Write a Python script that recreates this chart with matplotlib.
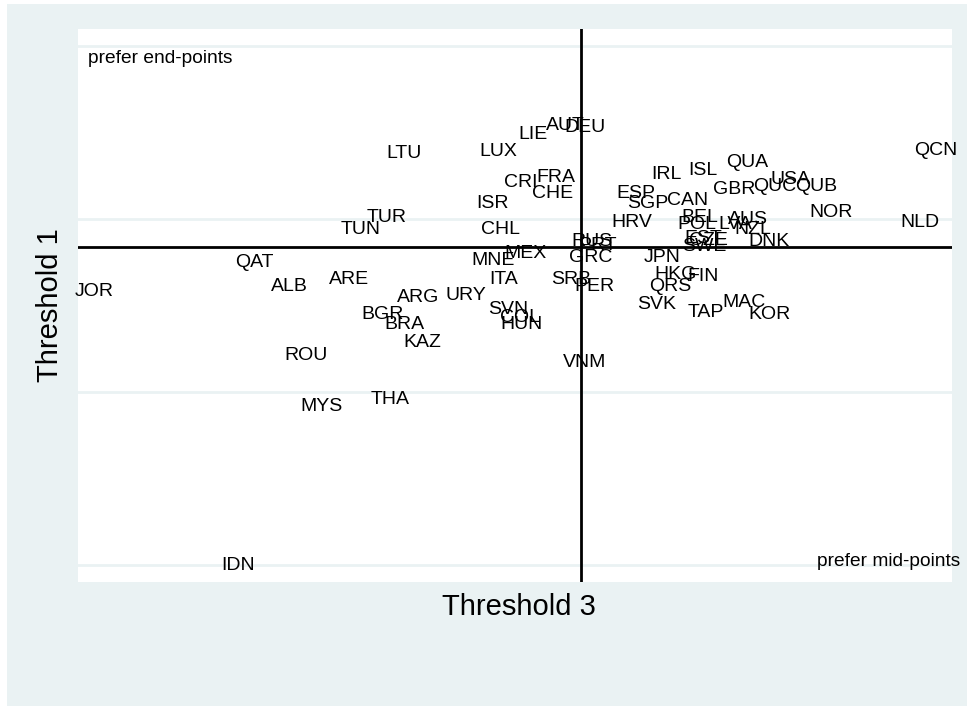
import matplotlib
matplotlib.use("Agg")
import matplotlib.pyplot as plt
from matplotlib.patches import Rectangle
from matplotlib.transforms import offset_copy

plt.rcParams['font.family'] = ['Liberation Sans', 'DejaVu Sans']

countries = ["JOR", "QAT", "ALB", "ARE", "TUN", "TUR", "ARG", "URY", "BGR", "BRA",
             "KAZ", "ROU", "MYS", "THA", "IDN", "LTU", "LUX", "LIE", "AUT", "DEU",
             "CRI", "FRA", "CHE", "ISR", "CHL", "MNE", "MEX", "ITA", "SVN", "COL",
             "HUN", "VNM", "SRB", "PER", "RUS", "PRT", "GRC", "ESP", "SGP", "CAN",
             "IRL", "ISL", "QUA", "GBR", "USA", "QUC", "QUB", "NOR", "NLD", "QCN",
             "HRV", "BEL", "POL", "LVA", "AUS", "NZL", "DNK", "EST", "CZE", "SWE",
             "JPN", "HKG", "FIN", "QRS", "SVK", "TAP", "MAC", "KOR"]
threshold3 = [-4.87, -3.27, -2.92, -2.32, -2.20, -1.94, -1.63, -1.15, -1.98, -1.77,
              -1.59, -2.75, -2.60, -1.91, -3.43, -1.77, -0.83, -0.48, -0.16, 0.04,
              -0.60, -0.25, -0.28, -0.88, -0.81, -0.88, -0.56, -0.77, -0.73, -0.61,
              -0.59, 0.04, -0.10, 0.13, 0.11, 0.17, 0.10, 0.55, 0.67, 1.07,
              0.85, 1.22, 1.66, 1.53, 2.10, 1.94, 2.35, 2.50, 3.39, 3.55,
              0.51, 1.19, 1.16, 1.54, 1.67, 1.72, 1.88, 1.22, 1.27, 1.23,
              0.81, 0.95, 1.22, 0.89, 0.76, 1.25, 1.63, 1.88]
threshold1 = [1.59, 1.76, 1.62, 1.66, 1.95, 2.02, 1.56, 1.57, 1.46, 1.40,
              1.30, 1.22, 0.93, 0.97, 0.01, 2.39, 2.40, 2.50, 2.55, 2.54,
              2.22, 2.25, 2.16, 2.10, 1.95, 1.77, 1.81, 1.66, 1.49, 1.44,
              1.40, 1.18, 1.66, 1.62, 1.88, 1.86, 1.79, 2.16, 2.10, 2.12,
              2.27, 2.29, 2.34, 2.18, 2.24, 2.20, 2.20, 2.05, 1.99, 2.41,
              1.99, 2.02, 1.98, 1.98, 2.01, 1.95, 1.88, 1.90, 1.89, 1.85,
              1.79, 1.69, 1.68, 1.62, 1.52, 1.47, 1.53, 1.46]
ref_x = 0.0
ref_y = 1.84
y_grid = [0, 1, 2, 3]

BG = "#EAF2F3"
fig = plt.figure(figsize=(9.67, 7.06), dpi=100)
fig.patch.set_facecolor("white")
W, H = 967, 706
fig.patches.append(Rectangle((7 / W, 0), 1 - 7 / W, 1 - 4 / H, transform=fig.transFigure,
                             facecolor=BG, edgecolor="none", zorder=-10))

ax = fig.add_axes([78 / W, 1 - 582 / H, (952 - 78) / W, (582 - 29) / H])
ax.set_facecolor("white")
ax.set_xlim(-5.03, 3.71)
ax.set_ylim(-0.098, 3.098)
for s in ax.spines.values():
    s.set_visible(False)
ax.set_xticks([])
ax.set_yticks(y_grid)
ax.set_yticklabels([])
ax.tick_params(axis='y', length=0)
ax.grid(axis='y', color=BG, linewidth=2)
ax.set_axisbelow(True)

ax.axhline(ref_y, color="black", linewidth=2, zorder=2)
ax.axvline(ref_x, color="black", linewidth=2, zorder=2)

tr = offset_copy(ax.transData, fig=fig, x=0, y=-2, units='dots')
for name, xv, yv in zip(countries, threshold3, threshold1):
    ax.text(xv, yv, name, ha="center", va="center", fontsize=14, color="black",
            zorder=3, clip_on=False, transform=tr)

ax.text(-4.93, 2.94, "prefer end-points", ha="left", va="center", fontsize=13.8,
        color="black", transform=tr)
ax.text(3.79, 0.03, "prefer mid-points", ha="right", va="center", fontsize=13.8,
        color="black", clip_on=False, transform=tr)

fig.text(519 / W, 1 - 607 / H, "Threshold 3", ha="center", va="center", fontsize=21)
fig.text(50 / W, 1 - 305 / H, "Threshold 1", ha="center", va="center", fontsize=21,
         rotation=90)

fig.savefig("out.png", dpi=100, facecolor=fig.get_facecolor())
